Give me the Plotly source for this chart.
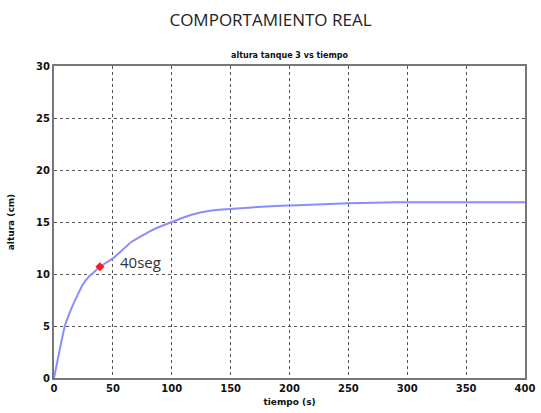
import plotly.graph_objects as go

tiempo = [0, 9, 16, 24, 30, 35, 39, 50, 66, 83, 100, 117, 134, 156, 180, 207, 250, 291, 350, 400]
altura = [0, 4.9, 7.0, 8.9, 9.8, 10.3, 10.7, 11.5, 13.1, 14.2, 15.0, 15.7, 16.1, 16.3, 16.5, 16.6, 16.8, 16.9, 16.9, 16.9]
punto_t = [39]
punto_h = [10.7]
etiqueta = "40seg"

x_ticks = [0, 50, 100, 150, 200, 250, 300, 350, 400]
y_ticks = [0, 5, 10, 15, 20, 25, 30]

fig = go.Figure()
fig.add_trace(go.Scatter(x=tiempo, y=altura, mode="lines",
                         line=dict(color="#8c8cff", width=2, shape="spline", smoothing=0.3),
                         showlegend=False))
fig.add_trace(go.Scatter(x=punto_t, y=punto_h, mode="markers",
                         marker=dict(color="#ff1a1a", size=7, symbol="diamond"),
                         showlegend=False))
fig.add_annotation(x=punto_t[0] + 15, y=punto_h[0] + 0.5, text=etiqueta, showarrow=False,
                   xanchor="left", yanchor="middle",
                   font=dict(family="Open Sans, sans-serif", size=15, color="#333333"))

fig.add_annotation(x=0.5, y=1.0, xref="paper", yref="paper", yshift=4,
                   text="<b>altura tanque 3 vs tiempo</b>", showarrow=False,
                   yanchor="bottom", font=dict(family="DejaVu Sans, sans-serif", size=8, color="#111111"))

axis_common = dict(showgrid=True, gridcolor="#555555", griddash="dot", gridwidth=1,
                   showline=True, linecolor="#777777", linewidth=2, mirror=True,
                   ticks="", zeroline=False, automargin=False,
                   tickfont=dict(family="DejaVu Sans, sans-serif", size=10, color="#111111", weight="bold"))

fig.update_layout(
    width=541, height=413, autosize=False,
    paper_bgcolor="white", plot_bgcolor="white",
    margin=dict(l=54, r=16, t=66, b=35),
    title=dict(text="COMPORTAMIENTO REAL", x=0.5, xanchor="center", y=0.952, yanchor="middle",
               font=dict(family="Open Sans, sans-serif", size=17, color="#222222"), automargin=False),
    xaxis=dict(range=[0, 400], tickvals=x_ticks,
               title=dict(text="<b>tiempo (s)</b>", standoff=6,
                          font=dict(family="DejaVu Sans, sans-serif", size=9, color="#111111")),
               **axis_common),
    yaxis=dict(range=[0, 30], tickvals=y_ticks,
               title=dict(text="<b>altura (cm)</b>", standoff=20,
                          font=dict(family="DejaVu Sans, sans-serif", size=9, color="#111111")),
               **axis_common),
)

fig.write_html("out.html",
               config=dict(displayModeBar=False, responsive=False),
               post_script="document.documentElement.style.overflow='hidden';"
                           "document.body.style.margin='0';document.body.style.overflow='hidden';")
